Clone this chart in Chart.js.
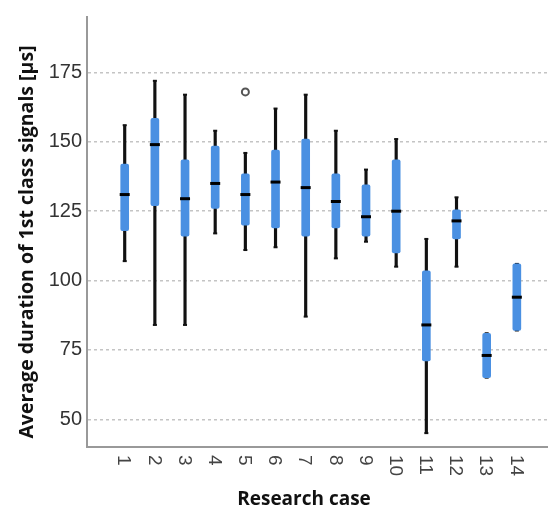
<!DOCTYPE html>
<html>
<head>
<meta charset="utf-8">
<script src="https://cdn.jsdelivr.net/npm/chart.js@4/dist/chart.umd.min.js"></script>
<style>
    body { margin: 0; background: #fff; }
</style>
</head>
<body>
<canvas id="chart" width="555" height="510"></canvas>
<script>
// Data (µs)
const cases = ['1', '2', '3', '4', '5', '6', '7', '8', '9', '10', '11', '12', '13', '14'];
const whiskerLow = [107, 84, 84, 117, 111, 112, 87, 108, 114, 105, 45, 105, 65, 82];
const boxLow = [118, 127, 116, 126, 120, 119, 116, 119, 116, 110, 71, 115, 65, 82];
const medians = [131, 149, 129.5, 135, 131, 135.5, 133.5, 128.5, 123, 125, 84, 121.5, 73, 94];
const boxHigh = [142, 158.5, 143.5, 148.5, 138.5, 147, 151, 138.5, 134.5, 143.5, 103.5, 125.5, 81, 106];
const whiskerHigh = [156, 172, 167, 154, 146, 162, 167, 154, 140, 151, 115, 130, 81, 106];
const outlierCase = ['5'];
const outlierValue = [168];
const yTicks = [50, 75, 100, 125, 150, 175];

const xTitle = 'Research case';
const yTitle = 'Average duration of 1st class signals [µs]';

const pos = c => cases.indexOf(c) + 1;

// --- TEXT PLUGIN (clockwise tick labels + axis titles) ---
const textPlugin = {
    id: 'textPlugin',
    afterDraw(chart) {
        const { ctx, scales: { x } } = chart;
        ctx.save();
        ctx.fillStyle = '#444';
        ctx.font = '19px "Liberation Sans", Arial, sans-serif';
        ctx.textAlign = 'left';
        ctx.textBaseline = 'middle';
        cases.forEach(c => {
            ctx.save();
            ctx.translate(x.getPixelForValue(pos(c)) - 1, x.top + 8);
            ctx.rotate(Math.PI / 2);
            ctx.fillText(c, 0, 0);
            ctx.restore();
        });

        ctx.fillStyle = '#111';
        ctx.textAlign = 'center';
        ctx.font = 'bold 19px "Open Sans", sans-serif';
        ctx.fillText(xTitle, 304, 500);

        ctx.font = 'bold 19.5px "Open Sans", sans-serif';
        ctx.translate(27, 242);
        ctx.rotate(-Math.PI / 2);
        ctx.fillText(yTitle, 0, 0);
        ctx.restore();
    }
};

const blue = '#4a90e2';

new Chart(document.getElementById('chart'), {
    type: 'bar',
    data: {
        datasets: [
            {
                type: 'scatter',
                data: cases.map((c, i) => ({ x: i + 1, y: medians[i] })),
                pointStyle: 'line',
                radius: 5,
                borderWidth: 3,
                borderColor: '#000',
                order: 0
            },
            {
                type: 'scatter',
                data: outlierCase.map((c, i) => ({ x: pos(c), y: outlierValue[i] })),
                pointStyle: 'circle',
                radius: 3.5,
                borderWidth: 2,
                borderColor: '#555',
                backgroundColor: '#fff',
                order: 0
            },
            {
                data: cases.map((c, i) => ({ x: i + 1, y: [boxLow[i], boxHigh[i]] })),
                backgroundColor: blue,
                barThickness: 8,
                grouped: false,
                borderRadius: 2,
                borderSkipped: false,
                order: 1
            },
            {
                type: 'scatter',
                data: cases.flatMap((c, i) => [{ x: i + 1, y: whiskerLow[i] }, { x: i + 1, y: whiskerHigh[i] }]),
                pointStyle: 'line',
                radius: 2,
                borderWidth: 2,
                borderColor: '#111',
                order: 2
            },
            {
                data: cases.map((c, i) => ({ x: i + 1, y: [whiskerLow[i], whiskerHigh[i]] })),
                backgroundColor: '#111',
                barThickness: 2.5,
                grouped: false,
                order: 3
            }
        ]
    },
    options: {
        responsive: false,
        animation: false,
        layout: { padding: { top: 15, right: 5, left: 0, bottom: 0 } },
        plugins: { legend: { display: false }, tooltip: { enabled: false } },
        scales: {
            x: {
                type: 'linear',
                min: -0.25,
                max: 15,
                offset: false,
                grid: { display: false },
                border: { color: '#999', width: 2 },
                ticks: { display: false },
                afterFit: s => { s.height = 63; }
            },
            y: {
                min: 40,
                max: 195,
                grid: { color: '#c4c4c4', lineWidth: 1.5, drawTicks: false },
                border: { color: '#999', width: 2, dash: [3, 3] },
                afterBuildTicks: s => { s.ticks = yTicks.map(v => ({ value: v })); },
                ticks: {
                    padding: 5,
                    color: '#333',
                    font: { family: '"Liberation Sans", Arial, sans-serif', size: 20 }
                },
                afterFit: s => { s.width = 87; }
            }
        }
    },
    plugins: [textPlugin]
});
</script>
</body>
</html>
